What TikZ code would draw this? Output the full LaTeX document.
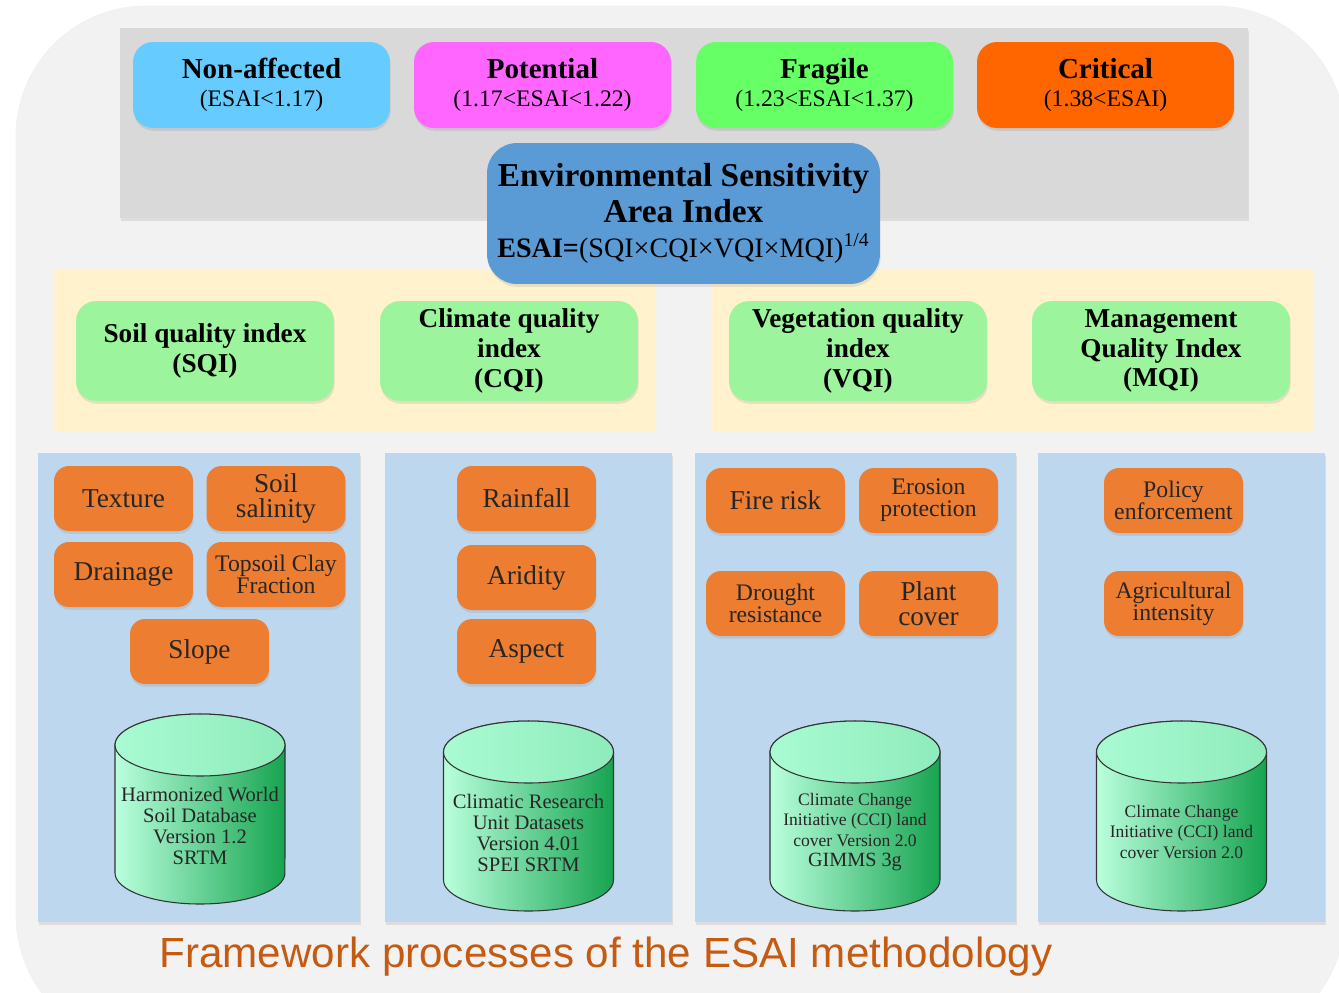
\documentclass[tikz,border=0pt]{standalone}
\usepackage{fontspec}
\setmainfont{Liberation Serif}
\newfontfamily\captionfont{Liberation Sans}
\usetikzlibrary{shadows}

\definecolor{panelgray}{HTML}{F2F2F3}
\definecolor{bandgray}{HTML}{D9D9D9}
\definecolor{classblue}{HTML}{66CCFF}
\definecolor{classpink}{HTML}{FF66FF}
\definecolor{classgreen}{HTML}{66FF66}
\definecolor{classorange}{HTML}{FF6600}
\definecolor{esaiblue}{HTML}{5B9BD5}
\definecolor{beige}{HTML}{FFF2CC}
\definecolor{indexgreen}{HTML}{9CF59C}
\definecolor{colblue}{HTML}{BDD7EE}
\definecolor{factororange}{HTML}{ED7D31}
\definecolor{dbleft}{HTML}{BAFFDD}
\definecolor{dbmid}{HTML}{78E8A8}
\definecolor{dbright}{HTML}{16A450}
\definecolor{dbtop}{HTML}{A9FBD2}
\definecolor{captext}{HTML}{C55A11}

\begin{document}
\begin{tikzpicture}[x=0.02cm, y=-0.02cm,
  soft/.style={drop shadow={opacity=0.18, shadow xshift=0.4pt, shadow yshift=-1.6pt}},
  class/.style={soft, fill=#1, rounded corners=0.4cm, minimum width=5.14cm,
    minimum height=1.72cm, align=center, inner sep=0pt,
    font=\fontsize{13.5}{16}\selectfont},
  esai/.style={soft, fill=esaiblue, rounded corners=0.6cm, minimum width=7.86cm,
    minimum height=2.82cm, align=center, inner sep=0pt,
    font=\fontsize{19}{20}\selectfont\bfseries},
  qindex/.style={soft, fill=indexgreen, rounded corners=0.4cm, minimum width=5.16cm,
    minimum height=2cm, align=center, inner sep=0pt,
    font=\fontsize{15.5}{17}\selectfont\bfseries},
  factor/.style={soft, fill=factororange, rounded corners=0.3cm, minimum width=2.78cm,
    minimum height=1.3cm, align=center, inner sep=0pt, text=black!85,
    font=\fontsize{15.5}{14.5}\selectfont},
  tight/.style={font=\fontsize{13.5}{12.5}\selectfont},
  dbtext/.style={align=center, inner sep=0pt, text=black!85,
    font=\fontsize{11.7}{12}\selectfont},
  dbsmall/.style={font=\fontsize{10}{11.7}\selectfont}]

  \useasboundingbox (0,0) rectangle (1339,992);

  % panel and bands
  \fill [panelgray, draw=black!6, rounded corners=2.6cm] (16,6) rectangle (1345,1045);
  \fill [bandgray, soft] (120,28) rectangle (1248,218);
  \fill [beige] (53,270) rectangle (655,432);
  \fill [beige] (712,270) rectangle (1313,432);
  \fill [colblue, soft] (38,453) rectangle (360,922);
  \fill [colblue, soft] (385,453) rectangle (672,922);
  \fill [colblue, soft] (695,453) rectangle (1016,922);
  \fill [colblue, soft] (1038,453) rectangle (1325,922);

  % sensitivity classes
  \node [class=classblue] (nonaff) at (261.5,85)
    {{\fontsize{16.5}{16}\selectfont\bfseries Non-affected}\\(ESAI<1.17)};
  \node [class=classpink] (potential) at (542.5,85)
    {{\fontsize{16.5}{16}\selectfont\bfseries Potential}\\(1.17<ESAI<1.22)};
  \node [class=classgreen] (fragile) at (824.5,85)
    {{\fontsize{16.5}{16}\selectfont\bfseries Fragile}\\(1.23<ESAI<1.37)};
  \node [class=classorange] (critical) at (1105.5,85)
    {{\fontsize{16.5}{16}\selectfont\bfseries Critical}\\(1.38<ESAI)};

  \node [esai] (esai) at (683.5,213.5)
    {Environmental Sensitivity\\Area Index\\
     {\fontsize{16}{20}\selectfont ESAI=\mdseries(SQI×CQI×VQI×MQI)\textsuperscript{1/4}}};

  % quality indices
  \node [qindex] (sqi) at (205,351) {Soil quality index\\(SQI)};
  \node [qindex] (cqi) at (509,351) {Climate quality\\index\\(CQI)};
  \node [qindex] (vqi) at (858,351) {Vegetation quality\\index\\(VQI)};
  \node [qindex] (mqi) at (1161,351) {Management\\Quality Index\\(MQI)};

  % soil factors
  \node [factor] (texture) at (123.5,498.5) {Texture};
  \node [factor] (salinity) at (276,498.5) {Soil\\salinity};
  \node [factor] (drainage) at (123.5,574.5) {Drainage};
  \node [factor, tight] (clay) at (276,574.5) {Topsoil Clay\\Fraction};
  \node [factor] (slope) at (199.5,651.5) {Slope};

  % climate factors
  \node [factor] (rainfall) at (526.5,498.5) {Rainfall};
  \node [factor] (aridity) at (526.5,577.5) {Aridity};
  \node [factor] (aspect) at (526.5,651.5) {Aspect};

  % vegetation factors
  \node [factor] (fire) at (775.5,500.5) {Fire risk};
  \node [factor, tight] (erosion) at (928.5,500.5) {Erosion\\protection};
  \node [factor, tight] (drought) at (775.5,603.5) {Drought\\resistance};
  \node [factor] (plant) at (928.5,603.5) {Plant\\cover};

  % management factors
  \node [factor, tight] (policy) at (1173.5,500.5) {Policy\\enforcement};
  \node [factor, tight] (agri) at (1173.5,603.5) {Agricultural\\intensity};

  % data sources
  \foreach \cx/\ty in {200/745, 528.5/752, 855/752, 1181.5/752} {
    \draw [draw=black!80, line width=0.6pt, left color=dbleft, middle color=dbmid, right color=dbright]
      (\cx-85,\ty) -- (\cx-85,\ty+128)
      arc [start angle=180, end angle=360, x radius=1.7cm, y radius=0.62cm]
      -- (\cx+85,\ty)
      arc [start angle=0, end angle=180, x radius=1.7cm, y radius=0.62cm] -- cycle;
    \draw [draw=black!80, line width=0.6pt, left color=dbtop, right color=dbtop!82!dbright]
      (\cx,\ty) ellipse [x radius=1.7cm, y radius=0.62cm];
  }
  \node [dbtext] (hwsd) at (200,826)
    {Harmonized World\\Soil Database\\Version 1.2\\SRTM};
  \node [dbtext] (cru) at (528.5,833)
    {Climatic Research\\Unit Datasets\\Version 4.01\\SPEI SRTM};
  \node [dbtext, dbsmall] (ccigimms) at (855,832)
    {Climate Change\\Initiative (CCI) land\\cover Version 2.0\\{\fontsize{11.5}{11.7}\selectfont GIMMS 3g}};
  \node [dbtext, dbsmall] (cci) at (1181.5,832)
    {Climate Change\\Initiative (CCI) land\\cover Version 2.0};

  \node [text=captext, font=\captionfont\fontsize{24}{28}\selectfont] (caption) at (606,957)
    {Framework processes of the ESAI methodology};
\end{tikzpicture}
\end{document}
